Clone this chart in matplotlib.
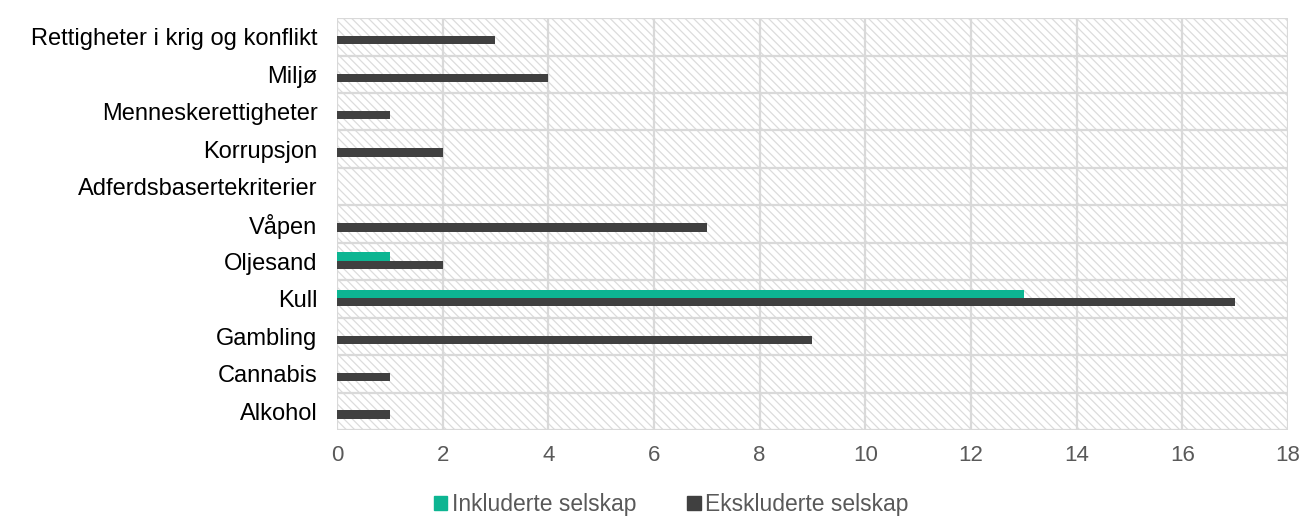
import numpy as np
import matplotlib.pyplot as plt
from matplotlib.patches import Rectangle, Patch

plt.rcParams['font.family'] = ['Liberation Sans', 'DejaVu Sans']
plt.rcParams['hatch.linewidth'] = 0.9
plt.rcParams['hatch.color'] = '#dcdcdc'

# Data, bottom to top as in the chart
categories = ['Alkohol', 'Cannabis', 'Gambling', 'Kull', 'Oljesand', 'Våpen',
              'Adferdsbasertekriterier', 'Korrupsjon', 'Menneskerettigheter',
              'Miljø', 'Rettigheter i krig og konflikt']
inkluderte = [0, 0, 0, 13, 1, 0, 0, 0, 0, 0, 0]
ekskluderte = [1, 1, 9, 17, 2, 7, 0, 2, 1, 4, 3]

teal = '#0db592'
dark = '#404040'
grid_col = '#d9d9d9'
text_col = '#595959'

fig = plt.figure(figsize=(13.03, 5.18), dpi=100)
ax = fig.add_axes([0.2586, 0.170, 0.7299, 0.795])

# hatched plot area
ax.add_patch(Rectangle((0, 0), 1, 1, transform=ax.transAxes, facecolor='white',
                       edgecolor='#dcdcdc', hatch='\\\\\\\\', linewidth=0, zorder=0))

y = np.arange(len(categories))
h = 0.22
ax.barh(y + h / 2 + 0.02, inkluderte, height=h, color=teal, zorder=3)
ax.barh(y - h / 2 + 0.02, ekskluderte, height=h, color=dark, zorder=3)

ax.set_xlim(0, 18)
ax.set_ylim(-0.5, len(categories) - 0.5)
ax.set_xticks(range(0, 19, 2))
ax.set_yticks(y)
ax.set_yticklabels(categories, fontsize=17, color='black')
ax.tick_params(axis='x', labelsize=16, colors=text_col, length=0, pad=11)
ax.tick_params(axis='y', length=0, pad=14)

for xv in range(0, 19, 2):
    ax.axvline(xv, color=grid_col, lw=1.6, zorder=1)
for yv in np.arange(-0.5, len(categories), 1):
    ax.axhline(yv, color=grid_col, lw=1.6, zorder=1)
for s in ax.spines.values():
    s.set_visible(False)

handles = [Patch(color=teal, label='Inkluderte selskap'),
           Patch(color=dark, label='Ekskluderte selskap')]
leg = fig.legend(handles=handles, loc='lower center', bbox_to_anchor=(0.515, -0.036),
                 ncol=2, frameon=False, fontsize=16.5, handlelength=0.6,
                 handleheight=0.6, handletextpad=0.2, columnspacing=2.2)
for t in leg.get_texts():
    t.set_color(text_col)

fig.savefig('out.png', dpi=100)
